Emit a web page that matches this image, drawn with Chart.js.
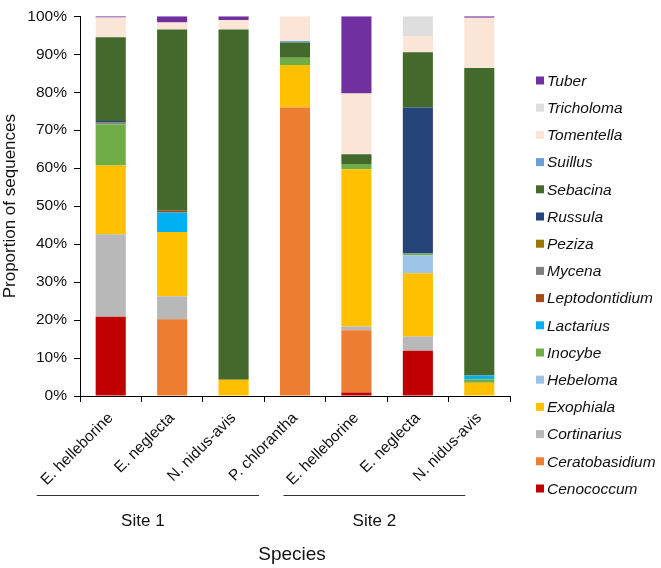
<!DOCTYPE html>
<html>
<head>
<meta charset="utf-8">
<script src="https://cdn.jsdelivr.net/npm/chart.js@4/dist/chart.umd.min.js"></script>
<style>
  html, body { margin: 0; background: #fff; }
  #wrap { width: 661px; height: 568px; }
</style>
</head>
<body>
<div id="wrap"><canvas id="chart" width="661" height="568"></canvas></div>
<script>
// categories (orchid species) and the site each group belongs to
const species = ["E. helleborine", "E. neglecta", "N. nidus-avis", "P. chlorantha", "E. helleborine", "E. neglecta", "N. nidus-avis"];
const siteNames = ["Site 1", "Site 2"];
const siteFirst = [0, 4];
const siteLast = [3, 6];

// proportion of sequences (%) per fungal genus, one value per species above
const cenococcum     = [20.9, 0,    0,    0,    0.9,  11.9, 0];
const ceratobasidium = [0,    20.2, 0,    76.0, 16.4, 0,    0];
const cortinarius    = [21.7, 6.1,  0,    0,    1.0,  3.8,  0];
const exophiala      = [18.1, 16.9, 4.3,  11.2, 41.4, 16.6, 3.5];
const hebeloma       = [0,    0,    0,    0,    0,    4.8,  0];
const inocybe        = [10.8, 0,    0,    1.9,  1.4,  0.4,  0.9];
const lactarius      = [0,    5.1,  0,    0,    0,    0,    1.0];
const leptodontidium = [0,    0.5,  0,    0,    0,    0,    0];
const mycena         = [0.5,  0,    0,    0,    0,    0,    0];
const peziza         = [0,    0,    0,    0,    0,    0,    0];
const russula        = [0.4,  0,    0,    0,    0,    38.5, 0];
const sebacina       = [22.1, 47.7, 92.2, 4.0,  2.6,  14.5, 81.0];
const suillus        = [0,    0,    0,    0.4,  0,    0,    0];
const tomentella     = [5.2,  1.9,  2.5,  6.5,  16.0, 4.3,  13.2];
const tricholoma     = [0,    0,    0,    0,    0,    5.2,  0];
const tuber          = [0.3,  1.6,  1.0,  0,    20.3, 0,    0.4];

const genera = ["Cenococcum", "Ceratobasidium", "Cortinarius", "Exophiala", "Hebeloma", "Inocybe", "Lactarius",
  "Leptodontidium", "Mycena", "Peziza", "Russula", "Sebacina", "Suillus", "Tomentella", "Tricholoma", "Tuber"];
const generaValues = [cenococcum, ceratobasidium, cortinarius, exophiala, hebeloma, inocybe, lactarius,
  leptodontidium, mycena, peziza, russula, sebacina, suillus, tomentella, tricholoma, tuber];
const generaColors = ["#c00000", "#ed7d31", "#b8b8b8", "#ffc000", "#9dc3e6", "#70ad47", "#00b0f0",
  "#a9480f", "#7f7f7f", "#9c7700", "#254478", "#44692d", "#6a9fd8", "#fbe5d6", "#dedede", "#7030a0"];

const yTicks = [0, 10, 20, 30, 40, 50, 60, 70, 80, 90, 100];

const FONT = "'Liberation Sans', Arial, sans-serif";

// legend on the right, drawn top-down from the last genus
const legendPlugin = {
  id: "sideLegend",
  afterDraw(chart) {
    const ctx = chart.ctx;
    const n = chart.data.datasets.length;
    ctx.save();
    ctx.font = "italic 15.5px " + FONT;
    ctx.textBaseline = "middle";
    ctx.textAlign = "left";
    for (let i = 0; i < n; i++) {
      const ds = chart.data.datasets[n - 1 - i];
      const y = 80.5 + i * 27.2;
      ctx.fillStyle = ds.backgroundColor;
      ctx.fillRect(536, y - 4, 8, 8);
      ctx.fillStyle = "#111";
      ctx.fillText(ds.label, 547, y + 1);
    }
    ctx.restore();
  }
};

// site grouping lines, site names and the x axis title
const sitePlugin = {
  id: "sites",
  afterDraw(chart) {
    const ctx = chart.ctx;
    const xs = chart.scales.x;
    const startShift = [-74, -73];
    const endShift = [-36, -14];
    ctx.save();
    ctx.strokeStyle = "#333";
    ctx.lineWidth = 1;
    ctx.fillStyle = "#111";
    ctx.textAlign = "center";
    ctx.textBaseline = "middle";
    ctx.font = "17px " + FONT;
    siteNames.forEach((name, i) => {
      const x1 = xs.getPixelForValue(siteFirst[i]) + startShift[i];
      const x2 = xs.getPixelForValue(siteLast[i]) + endShift[i];
      ctx.beginPath();
      ctx.moveTo(x1, 495.5);
      ctx.lineTo(x2, 495.5);
      ctx.stroke();
      ctx.fillText(name, (x1 + x2) / 2 - (i === 0 ? 5 : 0), 521);
    });
    ctx.font = "19px " + FONT;
    ctx.fillText("Species", (chart.chartArea.left + chart.chartArea.right) / 2 - 3, 555);
    ctx.restore();
  }
};

new Chart(document.getElementById("chart").getContext("2d"), {
  type: "bar",
  data: {
    labels: species,
    datasets: genera.map((g, i) => ({
      label: g,
      data: generaValues[i],
      backgroundColor: generaColors[i],
      borderWidth: 0,
      barPercentage: 0.49,
      categoryPercentage: 1
    }))
  },
  options: {
    responsive: false,
    animation: false,
    layout: { padding: { top: 9, right: 151, left: 0, bottom: 0 } },
    plugins: {
      legend: { display: false },
      tooltip: { enabled: false }
    },
    scales: {
      x: {
        stacked: true,
        afterFit(scale) { scale.height = 172; },
        border: { color: "#000", width: 1 },
        grid: { display: true, drawOnChartArea: false, drawTicks: true, tickLength: 6, color: "#000", offset: true },
        ticks: {
          color: "#111",
          font: { family: FONT, size: 15.5 },
          minRotation: 45,
          maxRotation: 45,
          padding: 7,
          autoSkip: false
        }
      },
      y: {
        stacked: true,
        min: 0,
        max: 100,
        afterFit(scale) { scale.width = 80; },
        afterBuildTicks(scale) { scale.ticks = yTicks.map(v => ({ value: v })); },
        border: { color: "#000", width: 1 },
        grid: { display: true, drawOnChartArea: false, drawTicks: true, tickLength: 6, color: "#000" },
        ticks: {
          color: "#111",
          font: { family: FONT, size: 15.5 },
          padding: 7,
          callback: v => v + "%"
        },
        title: {
          display: true,
          text: "Proportion of sequences",
          color: "#111",
          font: { family: FONT, size: 17, lineHeight: 1.2 },
          padding: { top: 0, bottom: 0 }
        }
      }
    }
  },
  plugins: [legendPlugin, sitePlugin]
});
</script>
</body>
</html>
